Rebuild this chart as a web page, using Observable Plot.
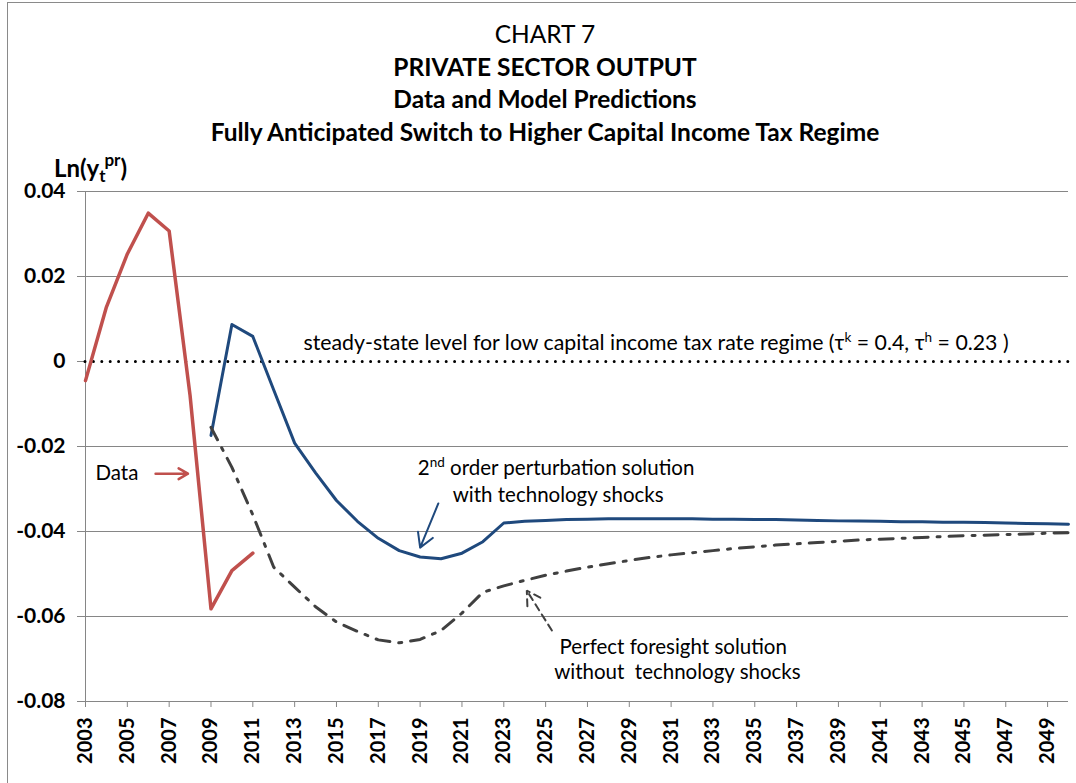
<!DOCTYPE html>
<html><head><meta charset="utf-8">
<script src="https://cdn.jsdelivr.net/npm/d3@7"></script>
<script src="https://cdn.jsdelivr.net/npm/@observablehq/plot@0.6"></script>
<style>
html,body{margin:0;padding:0;background:#fff;overflow:hidden;}
#wrap{position:relative;width:1076px;height:783px;font-family:Lato,"Open Sans",sans-serif;color:#000;overflow:hidden;}
#frame{position:absolute;left:7px;top:2px;width:1200px;height:1000px;border-left:1px solid #8a8a8a;border-top:1px solid #8a8a8a;}
#chart{position:absolute;left:0;top:0;}
#titles{position:absolute;left:0;top:18px;width:1090px;text-align:center;font-size:24.5px;line-height:32.5px;}
#titles .b{font-weight:bold;}
#ylab{position:absolute;left:54px;top:146px;font-weight:bold;font-size:24px;line-height:28px;white-space:nowrap;}
#ylab sub{font-size:17px;vertical-align:-5px;}
#ylab sup{font-size:17px;vertical-align:11px;margin-left:-1px;}
</style></head><body>
<div id="wrap">
  <div id="frame"></div>
  <div id="chart"></div>
  <div id="titles">
    <div>CHART 7</div>
    <div class="b">PRIVATE SECTOR OUTPUT</div>
    <div class="b">Data and Model Predictions</div>
    <div class="b">Fully Anticipated Switch to Higher Capital Income Tax Regime</div>
  </div>
  <div id="ylab">Ln(y<sub>t</sub><sup>pr</sup>)</div>
</div>
<script>
// ---- data ----
const dataYears = [2003,2004,2005,2006,2007,2008,2009,2010,2011];
const dataValues = [-0.0045,0.0128,0.0253,0.0349,0.0307,-0.0080,-0.0582,-0.0492,-0.0451];

const modelYears = [2009,2010,2011,2012,2013,2014,2015,2016,2017,2018,2019,2020,2021,2022,2023,2024,2025,2026,2027,2028,2029,2030,2031,2032,2033,2034,2035,2036,2037,2038,2039,2040,2041,2042,2043,2044,2045,2046,2047,2048,2049,2050];
const perturbationValues = [-0.0174,0.0087,0.0059,-0.0067,-0.0192,-0.0262,-0.0327,-0.0376,-0.0416,-0.0445,-0.0460,-0.0464,-0.0451,-0.0424,-0.0380,-0.0376,-0.0374,-0.0372,-0.0371,-0.0370,-0.0370,-0.0370,-0.0370,-0.0370,-0.0371,-0.0371,-0.0372,-0.0372,-0.0373,-0.0374,-0.0375,-0.0375,-0.0376,-0.0377,-0.0377,-0.0378,-0.0378,-0.0379,-0.0380,-0.0381,-0.0382,-0.0383];
const foresightValues = [-0.0155,-0.0249,-0.0361,-0.0484,-0.0531,-0.0577,-0.0613,-0.0635,-0.0655,-0.0662,-0.0654,-0.0633,-0.0592,-0.0543,-0.0528,-0.0515,-0.0503,-0.0493,-0.0484,-0.0476,-0.0468,-0.0461,-0.0455,-0.0450,-0.0445,-0.0440,-0.0436,-0.0432,-0.0429,-0.0426,-0.0423,-0.0420,-0.0418,-0.0416,-0.0414,-0.0412,-0.0410,-0.0409,-0.0407,-0.0406,-0.0404,-0.0403];
const steadyState = [0];

const xTicks = [2003,2005,2007,2009,2011,2013,2015,2017,2019,2021,2023,2025,2027,2029,2031,2033,2035,2037,2039,2041,2043,2045,2047,2049];
const yTicks = [-0.08,-0.06,-0.04,-0.02,0,0.02,0.04];
const gridTicks = [-0.06,-0.04,-0.02,0.02,0.04];

// annotations (data coordinates)
const startNotes = [
  {x:2013.42, y:0.0042, text:"steady-state level for low capital income tax rate regime (τ^{k} = 0.4, τ^{h} = 0.23 )"}
];
const centerNotes = [
  {x:2004.5, y:-0.0264, text:"Data"},
  {x:2025.5, y:-0.0252, text:"2^{nd} order perturbation solution"},
  {x:2025.6, y:-0.0315, text:"with technology shocks"},
  {x:2031.1, y:-0.0672, text:"Perfect foresight solution"},
  {x:2031.3, y:-0.0731, text:"without  technology shocks"}
];
const dataArrow = [{x1:2006.35, y1:-0.0264, x2:2007.9, y2:-0.0264}];
const perturbArrow = [{x1:2019.87, y1:-0.0334, x2:2019.0, y2:-0.0438}];
const foresightArrow = [{x1:2025.3, y1:-0.0633, x2:2024.1, y2:-0.0539}];

const dataRows = dataYears.map((yr,i)=>({year:yr, value:dataValues[i]}));
const perturbRows = modelYears.map((yr,i)=>({year:yr, value:perturbationValues[i]}));
const foresightRows = modelYears.map((yr,i)=>({year:yr, value:foresightValues[i]}));

const RED = "#C0504D", BLUE = "#1F497D", DARK = "#404040", GRID = "#868686";
const FONT = "Lato, 'Open Sans', sans-serif";

const plot = Plot.plot({
  width:1076, height:783,
  marginLeft:85, marginRight:8, marginTop:191, marginBottom:82,
  style:{fontFamily:FONT, background:"transparent", overflow:"visible"},
  x:{domain:[2003,2050], label:null},
  y:{domain:[-0.08,0.04], label:null},
  marks:[
    Plot.gridY(gridTicks, {stroke:GRID, strokeOpacity:1, strokeWidth:1}),
    Plot.ruleX([2003], {stroke:GRID, strokeWidth:1}),
    Plot.ruleY([-0.08], {stroke:GRID, strokeWidth:1}),
    Plot.axisY(yTicks, {label:null, tickFormat:d => d === 0 ? "0" : d.toFixed(2), tickSize:8, tickPadding:12, fontSize:21, fontWeight:"bold", stroke:GRID, fill:"#000"}),
    Plot.axisX(xTicks, {label:null, tickFormat:d => String(d), tickRotate:-90, tickSize:6, tickPadding:10, fontSize:20, fontWeight:"bold", stroke:GRID, fill:"#000"}),
    Plot.ruleY(steadyState, {stroke:"#000", strokeWidth:3, strokeDasharray:"0,8.4", strokeLinecap:"round"}),
    Plot.line(perturbRows, {x:"year", y:"value", stroke:BLUE, strokeWidth:3}),
    Plot.line(foresightRows, {x:"year", y:"value", stroke:DARK, strokeWidth:3, strokeDasharray:"14,9,3,9"}),
    Plot.line(dataRows, {x:"year", y:"value", stroke:RED, strokeWidth:3.5}),
    Plot.arrow(dataArrow, {x1:"x1", y1:"y1", x2:"x2", y2:"y2", stroke:RED, strokeWidth:2.5, headLength:11}),
    Plot.arrow(perturbArrow, {x1:"x1", y1:"y1", x2:"x2", y2:"y2", stroke:BLUE, strokeWidth:2, headLength:13}),
    Plot.arrow(foresightArrow, {x1:"x1", y1:"y1", x2:"x2", y2:"y2", stroke:DARK, strokeWidth:2, headLength:13, strokeDasharray:"7,5"}),
    Plot.text(startNotes, {x:"x", y:"y", text:"text", textAnchor:"start", fontSize:21.3, fill:"#000"}),
    Plot.text(centerNotes, {x:"x", y:"y", text:"text", textAnchor:"middle", fontSize:20.5, fill:"#000"})
  ]
});

// render ^{...} markup as real superscript tspans
const NS = "http://www.w3.org/2000/svg";
plot.querySelectorAll("text").forEach(t => {
  const s = t.textContent;
  if (!s.includes("^{")) return;
  const parts = s.split(/(\^\{[^}]*\})/).filter(p => p.length);
  t.textContent = "";
  let up = false;
  for (const p of parts) {
    const ts = document.createElementNS(NS, "tspan");
    if (p.startsWith("^{")) {
      ts.textContent = p.slice(2, -1);
      ts.setAttribute("font-size", "13.5");
      ts.setAttribute("dy", "-8");
      up = true;
    } else {
      ts.textContent = p;
      if (up) { ts.setAttribute("dy", "8"); up = false; }
    }
    t.appendChild(ts);
  }
});

document.getElementById("chart").appendChild(plot);
</script>
</body></html>
